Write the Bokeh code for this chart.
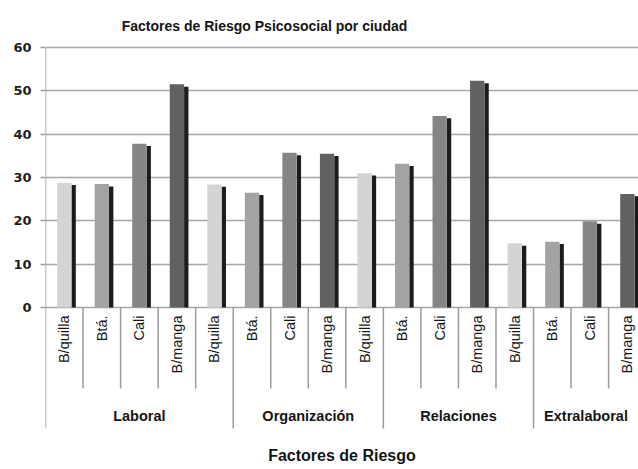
import math
from bokeh.plotting import figure
from bokeh.models import Range1d, FixedTicker, ColumnDataSource
from bokeh.core.properties import value
from bokeh.embed import file_html
from bokeh.resources import INLINE

# ---- data ----
cities = ["B/quilla", "Btá.", "Cali", "B/manga",
          "B/quilla", "Btá.", "Cali", "B/manga",
          "B/quilla", "Btá.", "Cali", "B/manga",
          "B/quilla", "Btá.", "Cali", "B/manga"]
values = [28.8, 28.5, 37.8, 51.5,
          28.4, 26.5, 35.7, 35.5,
          31.0, 33.2, 44.2, 52.3,
          14.8, 15.2, 19.9, 26.2]
groups = ["Laboral", "Organización", "Relaciones", "Extralaboral"]
group_sizes = [5, 4, 4, 3]
y_ticks = [0, 10, 20, 30, 40, 50, 60]
title_text = "Factores de Riesgo Psicosocial por ciudad"
x_title = "Factores de Riesgo"

# ---- layout / styles ----
city_colors = {"B/quilla": "#d4d4d4", "Btá.": "#a3a3a3", "Cali": "#858585", "B/manga": "#616161"}
FONT = "Liberation Sans"
W, H = 638, 469
LEFT = 45            # frame left (px)
ZERO_PX = 307        # pixel row of value 0
PXU = 260 / 60.0     # pixels per value unit
CAT_PX = 37.54       # pixels per category
X_END = (W - LEFT) / CAT_PX
Y_END = ZERO_PX / PXU
Y_START = -(H - ZERO_PX) / PXU
SEP_SHORT = -(388 - ZERO_PX) / PXU
SEP_LONG = -(428 - ZERO_PX) / PXU
GROUP_LABEL_Y = -(415 - ZERO_PX) / PXU
XTITLE_Y = -(455 - ZERO_PX) / PXU
TITLE_Y = (ZERO_PX - 25) / PXU
TITLE_X = (264 - LEFT) / CAT_PX
SHADOW_DX = 0.25
SHADOW_DY = 0.55
GRID = "#a6a6a6"
SEP = "#9c9c9c"
TXT = "#151515"

n = len(values)
xs = [i + 0.5 for i in range(n)]
src = ColumnDataSource(dict(
    x=xs, top=values, city=cities,
    color=[city_colors[c] for c in cities],
    sx=[x + SHADOW_DX for x in xs],
    stop=[v - SHADOW_DY for v in values],
))

p = figure(width=W, height=H, x_range=Range1d(0, X_END), y_range=Range1d(Y_START, Y_END),
           output_backend="svg", toolbar_location=None, x_axis_location=None,
           min_border_left=LEFT, min_border_right=0, min_border_top=0, min_border_bottom=0,
           outline_line_color=None, background_fill_color="white", border_fill_color="white")

# y axis
yax = p.yaxis[0]
yax.ticker = FixedTicker(ticks=y_ticks)
yax.major_tick_out = 5
yax.major_tick_in = 0
yax.minor_tick_line_color = None
yax.axis_line_color = None
yax.major_tick_line_color = SEP
yax.major_tick_line_width = 1.5
yax.major_label_text_font = "DejaVu Sans"
yax.major_label_text_font_style = "bold"
yax.major_label_text_font_size = "13px"
yax.major_label_text_color = "#1e1e1e"
yax.major_label_standoff = 9

p.xgrid.visible = False
p.ygrid.ticker = FixedTicker(ticks=y_ticks)
p.ygrid.grid_line_color = GRID
p.ygrid.grid_line_width = 1.5

# bars with shadow
p.vbar(x="sx", top="stop", bottom=0, width=0.115, source=src, fill_color="#1c1c1c", line_color=None)
p.vbar(x="x", top="top", bottom=0, width=0.38, source=src, fill_color="color", line_color=None)

# vertical axis line (from top tick down to the group separators' end)
p.segment(x0=[0], y0=[max(y_ticks)], x1=[0], y1=[SEP_LONG], line_color=SEP, line_width=1.5)

# separators below axis
group_edges = []
acc = 0
for s in group_sizes:
    acc += s
    group_edges.append(acc)
cat_bounds = [b for b in range(1, n) if b not in group_edges]
p.segment(x0=cat_bounds, y0=[0] * len(cat_bounds), x1=cat_bounds, y1=[SEP_SHORT] * len(cat_bounds),
          line_color=SEP, line_width=1.5)
gb = [g for g in group_edges if g < n]
p.segment(x0=gb, y0=[0] * len(gb), x1=gb, y1=[SEP_LONG] * len(gb),
          line_color=SEP, line_width=1.5)

# city labels (rotated)
p.text(x="x", y=0, text="city", source=src, angle=math.pi / 2, text_align="right",
       text_baseline="middle", y_offset=8, text_font=value(FONT),
       text_font_size="14.5px", text_color=TXT)

# group labels
starts = [0] + group_edges[:-1]
gx = [(s + min(e, X_END)) / 2 for s, e in zip(starts, group_edges)]
p.text(x=gx, y=[GROUP_LABEL_Y] * len(gx), text=groups, text_align="center",
       text_baseline="middle", text_font=value(FONT), text_font_style="bold",
       text_font_size="14.5px", text_color=TXT)

# titles
p.text(x=[TITLE_X], y=[TITLE_Y], text=[title_text], text_align="center", text_baseline="middle",
       text_font=value(FONT), text_font_style="bold", text_font_size="14px", text_color=TXT)
p.text(x=[X_END / 2], y=[XTITLE_Y], text=[x_title], text_align="center", text_baseline="middle",
       text_font=value(FONT), text_font_style="bold", text_font_size="16px", text_color=TXT)

open("out.html", "w").write(file_html(p, INLINE))
